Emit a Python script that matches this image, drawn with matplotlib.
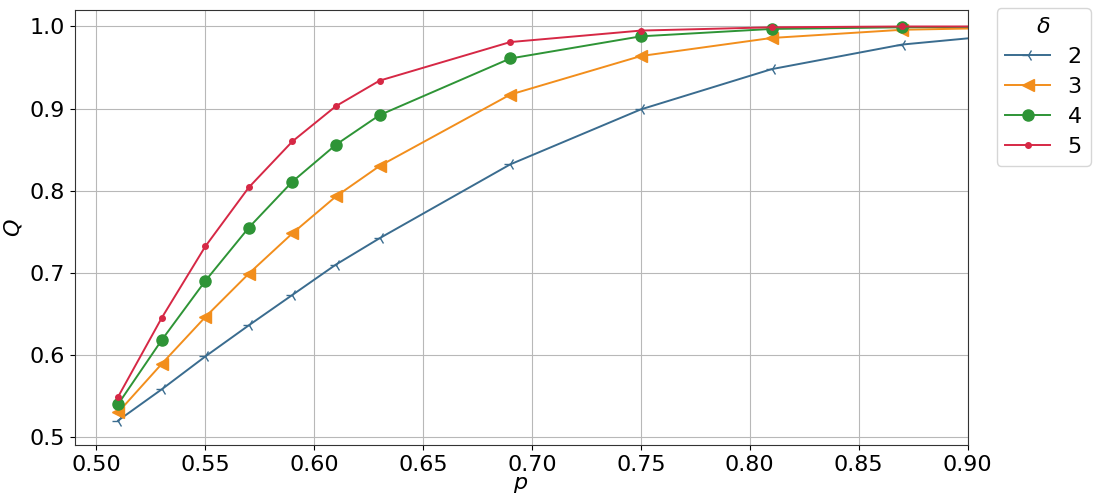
import numpy as np
import matplotlib
matplotlib.use("Agg")
import matplotlib.pyplot as plt

p = [0.51, 0.53, 0.55, 0.57, 0.59, 0.61, 0.63, 0.69, 0.75, 0.81, 0.87, 0.93]
q2 = [0.520, 0.558, 0.598, 0.636, 0.673, 0.710, 0.742, 0.832, 0.899, 0.948, 0.978, 0.993]
q3 = [0.530, 0.589, 0.646, 0.699, 0.748, 0.793, 0.830, 0.917, 0.964, 0.986, 0.996, 0.999]
q4 = [0.540, 0.618, 0.690, 0.755, 0.811, 0.856, 0.892, 0.961, 0.988, 0.997, 0.999, 1.000]
q5 = [0.549, 0.645, 0.732, 0.804, 0.860, 0.903, 0.934, 0.981, 0.995, 0.999, 1.000, 1.000]
deltas = ["2", "3", "4", "5"]

plt.rcParams['font.size'] = 16
fig, ax = plt.subplots(figsize=(10.97, 5.03), dpi=100)

ax.plot(p, q2, color="#3a6c8f", marker="3", markersize=9, lw=1.4, label=deltas[0])
ax.plot(p, q3, color="#f28e1c", marker="<", markersize=8, lw=1.4, label=deltas[1])
ax.plot(p, q4, color="#2e9436", marker="o", markersize=8, lw=1.4, label=deltas[2])
ax.plot(p, q5, color="#d62845", marker="o", markersize=4, lw=1.4, label=deltas[3])

ax.set_xlim(0.49, 0.90)
ax.set_ylim(0.49, 1.02)
ax.set_xticks(np.arange(0.50, 0.91, 0.05))
ax.set_yticks(np.arange(0.5, 1.01, 0.1))
ax.grid(True, color="#b8b8b8", lw=0.8)
ax.set_xlabel("$p$", labelpad=0)
ax.set_ylabel("$Q$")
ax.tick_params(labelsize=16)
for s in ax.spines.values():
    s.set_color("#333333")

ax.legend(title=r"$\delta$", loc="upper left", bbox_to_anchor=(1.02, 1.03),
          fontsize=16, title_fontsize=16, labelspacing=0.45)

fig.subplots_adjust(left=0.068, right=0.882, top=0.98, bottom=0.115)
fig.savefig("out.png")
